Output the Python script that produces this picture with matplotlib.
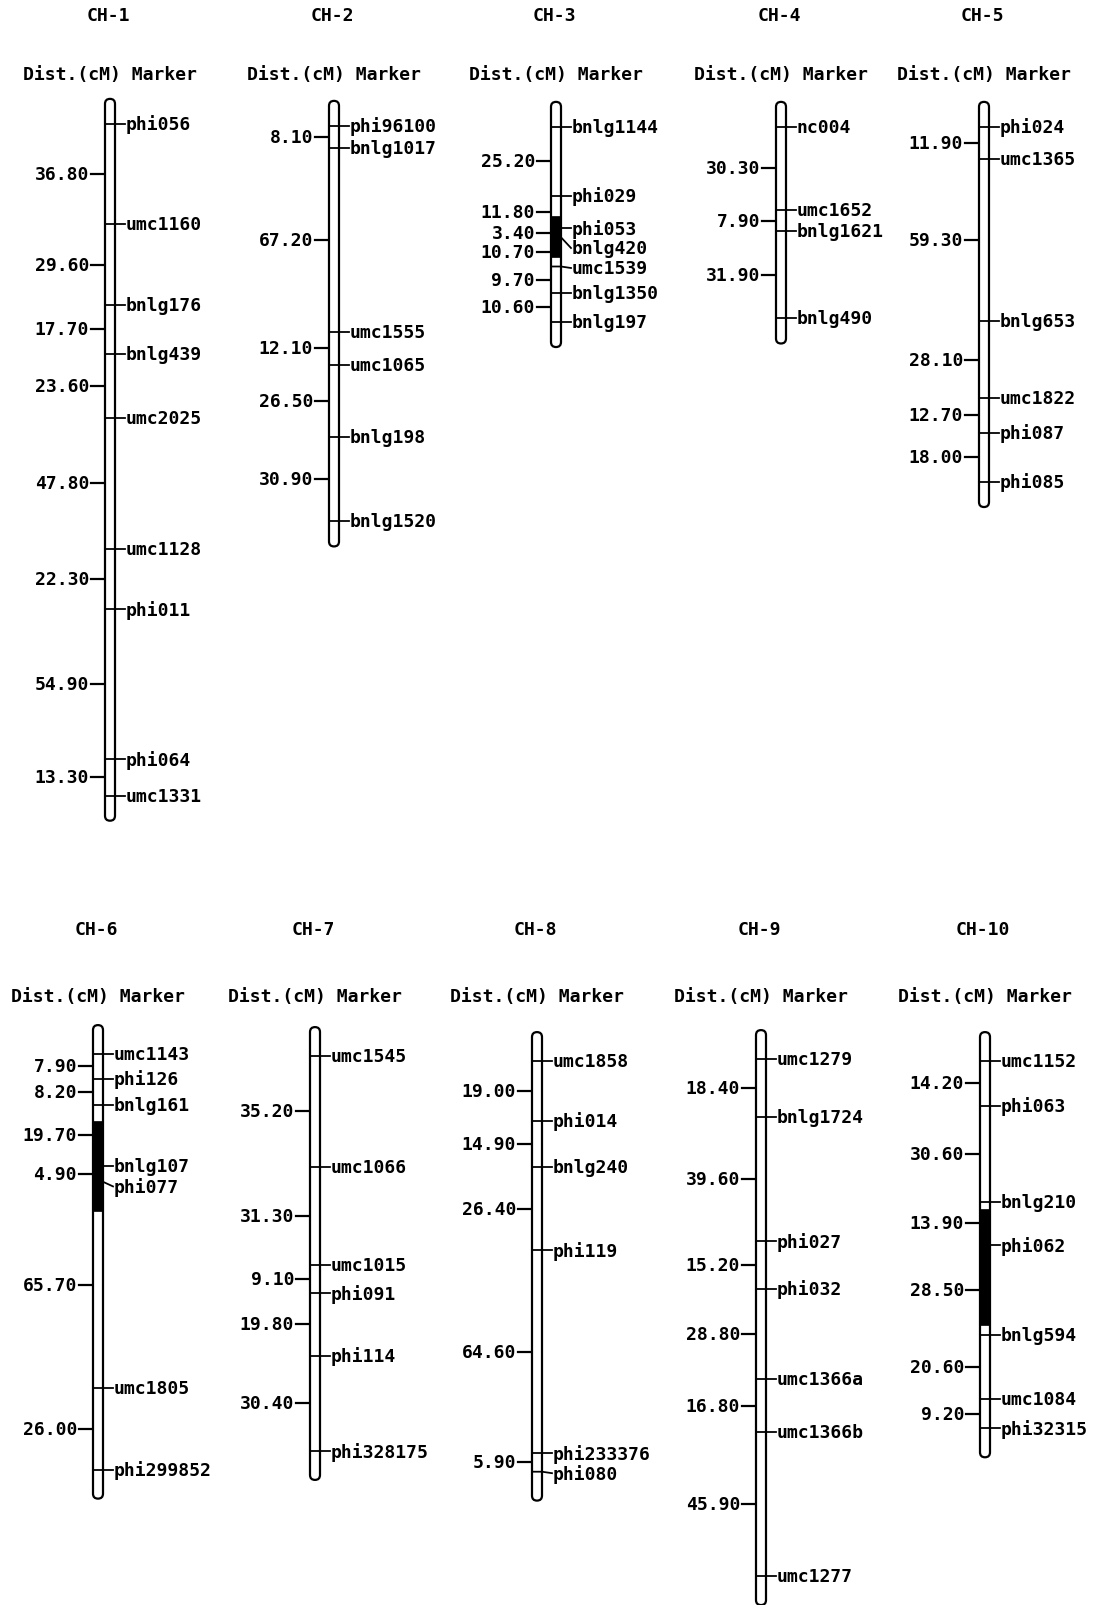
import numpy as np
import matplotlib
matplotlib.use("Agg")
from matplotlib import pyplot as plt
from matplotlib.patches import FancyBboxPatch, Rectangle

# marker names and interval distances (cM) for each chromosome
ch1_markers = ['phi056', 'umc1160', 'bnlg176', 'bnlg439', 'umc2025', 'umc1128', 'phi011', 'phi064', 'umc1331']
ch1_dist = [36.8, 29.6, 17.7, 23.6, 47.8, 22.3, 54.9, 13.3]
ch2_markers = ['phi96100', 'bnlg1017', 'umc1555', 'umc1065', 'bnlg198', 'bnlg1520']
ch2_dist = [8.1, 67.2, 12.1, 26.5, 30.9]
ch3_markers = ['bnlg1144', 'phi029', 'phi053', 'bnlg420', 'umc1539', 'bnlg1350', 'bnlg197']
ch3_dist = [25.2, 11.8, 3.4, 10.7, 9.7, 10.6]
ch4_markers = ['nc004', 'umc1652', 'bnlg1621', 'bnlg490']
ch4_dist = [30.3, 7.9, 31.9]
ch5_markers = ['phi024', 'umc1365', 'bnlg653', 'umc1822', 'phi087', 'phi085']
ch5_dist = [11.9, 59.3, 28.1, 12.7, 18.0]
ch6_markers = ['umc1143', 'phi126', 'bnlg161', 'bnlg107', 'phi077', 'umc1805', 'phi299852']
ch6_dist = [7.9, 8.2, 19.7, 4.9, 65.7, 26.0]
ch7_markers = ['umc1545', 'umc1066', 'umc1015', 'phi091', 'phi114', 'phi328175']
ch7_dist = [35.2, 31.3, 9.1, 19.8, 30.4]
ch8_markers = ['umc1858', 'phi014', 'bnlg240', 'phi119', 'phi233376', 'phi080']
ch8_dist = [19.0, 14.9, 26.4, 64.6, 5.9]
ch9_markers = ['umc1279', 'bnlg1724', 'phi027', 'phi032', 'umc1366a', 'umc1366b', 'umc1277']
ch9_dist = [18.4, 39.6, 15.2, 28.8, 16.8, 45.9]
ch10_markers = ['umc1152', 'phi063', 'bnlg210', 'phi062', 'bnlg594', 'umc1084', 'phi32315']
ch10_dist = [14.2, 30.6, 13.9, 28.5, 20.6, 9.2]

# dark segments (start, end in cM)
segments = {3: (32.5, 47.5), 6: (21.3, 50.0), 10: (47.0, 84.0)}

chroms = [
    (ch1_markers, ch1_dist), (ch2_markers, ch2_dist), (ch3_markers, ch3_dist),
    (ch4_markers, ch4_dist), (ch5_markers, ch5_dist), (ch6_markers, ch6_dist),
    (ch7_markers, ch7_dist), (ch8_markers, ch8_dist), (ch9_markers, ch9_dist),
    (ch10_markers, ch10_dist),
]

# layout (pixels)
W, H = 1095, 1606
centers = [110, 334, 556, 781, 984, 98, 315, 537, 761, 985]
y0s = [125, 127, 128, 128, 128, 1055, 1057, 1062, 1060, 1062]
rows = [(0, 880, 2.73, 16, 75), (880, 1606, 3.14, 930, 997)]
pad = 9.2
half = 5
lw = 1.6

plt.rcParams['font.family'] = 'DejaVu Sans Mono'
plt.rcParams['font.weight'] = 'bold'
plt.rcParams['font.size'] = 13

fig = plt.figure(figsize=(W / 100, H / 100), dpi=100)

for i, (markers, dist) in enumerate(chroms):
    r = rows[i // 5]
    rt, rb, s = r[0], r[1], r[2]
    cx, y0 = centers[i], y0s[i]
    ax = fig.add_axes([(cx - 130) / W, 1 - rb / H, 260 / W, (rb - rt) / H])
    ax.set_xlim(-130, 130)
    ax.set_ylim((rb - y0) / s, (rt - y0) / s)
    ax.axis('off')

    pos = np.concatenate([[0], np.cumsum(dist)])
    total = pos[-1]

    # chromosome body
    body = FancyBboxPatch((-half, -pad), 2 * half, total + 2 * pad,
                          boxstyle='round,pad=0,rounding_size=5',
                          mutation_aspect=1 / s, fc='white', ec='black', lw=lw, zorder=2)
    ax.add_patch(body)
    if i + 1 in segments:
        a, b = segments[i + 1]
        ax.add_patch(Rectangle((-half, a), 2 * half, b - a, fc='black', ec='black', lw=0.5, zorder=3))

    # marker ticks and labels
    gap = 20 / s
    prev = None
    for name, p in zip(markers, pos):
        lab = p if prev is None else max(p, prev + gap)
        prev = lab
        if lab - p > 1e-6:
            ax.plot([-half, half, 15], [p, p, lab], color='black', lw=lw * 0.8, zorder=4)
        else:
            ax.plot([-half, 15], [p, p], color='black', lw=lw * 0.8, zorder=4)
        ax.text(16, lab, name, ha='left', va='center')

    # interval distances
    mids = (pos[:-1] + pos[1:]) / 2
    for d, m in zip(dist, mids):
        ax.plot([-19, -half], [m, m], color='black', lw=lw, zorder=1)
        ax.text(-21, m, '%.2f' % d, ha='right', va='center')

    fig.text((cx - 2) / W, 1 - r[3] / H, 'CH-%d' % (i + 1), ha='center', va='center')
    fig.text(cx / W, 1 - r[4] / H, 'Dist.(cM) Marker', ha='center', va='center')

plt.savefig('out.png', dpi=100, facecolor='white')
